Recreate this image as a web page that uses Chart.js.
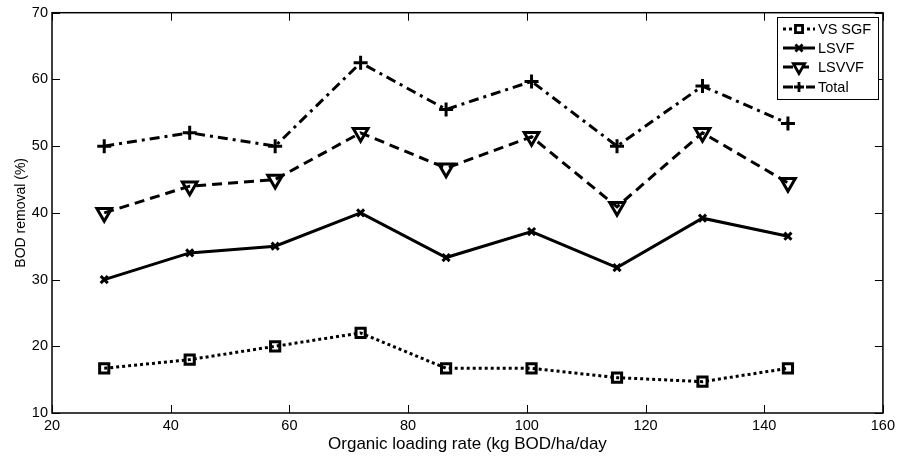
<!DOCTYPE html>
<html>
<head>
<meta charset="utf-8">
<script src="https://cdn.jsdelivr.net/npm/chart.js@4.4.0/dist/chart.umd.min.js"></script>
<style>
  html, body { margin: 0; padding: 0; background: #fff; }
  #wrap { width: 899px; height: 458px; position: relative; }
</style>
</head>
<body>
<div id="wrap"><canvas id="bodChart" width="899" height="458"></canvas></div>
<script>
const loadingRates = [28.8, 43.2, 57.6, 72, 86.4, 100.8, 115.2, 129.6, 144];
const vsSgf = [16.7, 18, 20, 22, 16.7, 16.7, 15.3, 14.7, 16.7];
const lsvf = [30, 34, 35, 40, 33.3, 37.2, 31.8, 39.2, 36.5];
const lsvvf = [40, 44, 45, 52, 46.7, 51.4, 40.9, 52, 44.5];
const total = [50, 52, 50, 62.5, 55.5, 59.7, 50, 59, 53.4];
const xTicks = [20, 40, 60, 80, 100, 120, 140, 160];
const yTicks = [10, 20, 30, 40, 50, 60, 70];

const FONT = '"Liberation Sans", Arial, sans-serif';

function toPoints(vals) {
  return vals.map((v, i) => ({ x: loadingRates[i], y: v }));
}

const seriesStyles = [
  { label: 'VS SGF', data: vsSgf, dash: [3, 3], pointStyle: 'rect', radius: 6.5, rotation: 0 },
  { label: 'LSVF', data: lsvf, dash: [], pointStyle: 'crossRot', radius: 5, rotation: 0 },
  { label: 'LSVVF', data: lsvvf, dash: [10, 6], pointStyle: 'triangle', radius: 8.5, rotation: 180 },
  { label: 'Total', data: total, dash: [10, 5, 3, 5], pointStyle: 'cross', radius: 7, rotation: 0 }
];

// inward ticks on all four sides plus the frame, matlab style
const framePlugin = {
  id: 'frame',
  afterDatasetsDraw(chart) {
    const { ctx, chartArea: a, scales } = chart;
    ctx.save();
    ctx.strokeStyle = '#000';
    ctx.lineWidth = 1;
    xTicks.forEach(t => {
      const px = Math.round(scales.x.getPixelForValue(t)) + 0.5;
      ctx.beginPath();
      ctx.moveTo(px, a.bottom); ctx.lineTo(px, a.bottom - 8);
      ctx.moveTo(px, a.top); ctx.lineTo(px, a.top + 8);
      ctx.stroke();
    });
    yTicks.forEach(t => {
      const py = Math.round(scales.y.getPixelForValue(t)) + 0.5;
      ctx.beginPath();
      ctx.moveTo(a.left, py); ctx.lineTo(a.left + 8, py);
      ctx.moveTo(a.right, py); ctx.lineTo(a.right - 8, py);
      ctx.stroke();
    });
    ctx.lineWidth = 1.5;
    ctx.strokeRect(a.left, a.top, a.right - a.left, a.bottom - a.top);
    ctx.restore();
  }
};

const legendPlugin = {
  id: 'boxLegend',
  afterDraw(chart) {
    const ctx = chart.ctx;
    const box = { x: 777, y: 17, w: 101, h: 82 };
    ctx.save();
    ctx.fillStyle = '#fff';
    ctx.fillRect(box.x, box.y, box.w, box.h);
    ctx.strokeStyle = '#000';
    ctx.lineWidth = 1;
    ctx.strokeRect(box.x + 0.5, box.y + 0.5, box.w, box.h);
    const rows = [29, 48, 67, 87];
    seriesStyles.forEach((s, i) => {
      const y = rows[i];
      ctx.strokeStyle = '#000';
      ctx.lineWidth = 3;
      ctx.setLineDash(s.dash);
      ctx.beginPath();
      ctx.moveTo(783, y); ctx.lineTo(815, y);
      ctx.stroke();
      ctx.setLineDash([]);
      ctx.lineWidth = 2.8;
      ctx.fillStyle = '#fff';
      Chart.helpers.drawPoint(ctx, {
        pointStyle: s.pointStyle, rotation: s.rotation,
        radius: s.pointStyle === 'triangle' ? 6.5 : 5, borderWidth: 2.8
      }, 799, y);
      ctx.fillStyle = '#000';
      ctx.font = '14.5px ' + FONT;
      ctx.textBaseline = 'middle';
      ctx.fillText(s.label, 818, y + 1);
    });
    ctx.restore();
  }
};

new Chart(document.getElementById('bodChart'), {
  type: 'line',
  data: {
    datasets: seriesStyles.map(s => ({
      label: s.label,
      data: toPoints(s.data),
      borderColor: '#000',
      borderWidth: 3,
      borderDash: s.dash,
      backgroundColor: '#fff',
      pointStyle: s.pointStyle,
      pointRotation: s.rotation,
      pointRadius: s.radius,
      pointBorderWidth: 3,
      pointBorderColor: '#000',
      pointBackgroundColor: 'rgba(255,255,255,0)',
      tension: 0,
      fill: false
    }))
  },
  options: {
    responsive: false,
    animation: false,
    events: [],
    layout: { padding: { top: 12, right: 16, left: 0, bottom: 0 } },
    plugins: { legend: { display: false }, tooltip: { enabled: false } },
    scales: {
      x: {
        type: 'linear', min: 20, max: 160,
        afterBuildTicks: s => { s.ticks = xTicks.map(v => ({ value: v })); },
        grid: { display: false, drawTicks: false },
        border: { display: false },
        ticks: { color: '#000', font: { family: FONT, size: 14.5 }, padding: 4, maxRotation: 0 },
        title: { display: true, text: 'Organic loading rate (kg BOD/ha/day', color: '#000',
                 font: { family: FONT, size: 17 }, padding: { top: 2, bottom: 3 } },
        afterFit: s => { s.height = 45; }
      },
      y: {
        min: 10, max: 70,
        afterBuildTicks: s => { s.ticks = yTicks.map(v => ({ value: v })); },
        grid: { display: false, drawTicks: false },
        border: { display: false },
        ticks: { color: '#000', font: { family: FONT, size: 14.5 }, padding: 4 },
        title: { display: true, text: 'BOD removal (%)', color: '#000',
                 font: { family: FONT, size: 14 }, padding: { top: 13, bottom: 0 } },
        afterFit: s => { s.width = 52; }
      }
    }
  },
  plugins: [framePlugin, legendPlugin]
});
</script>
</body>
</html>
